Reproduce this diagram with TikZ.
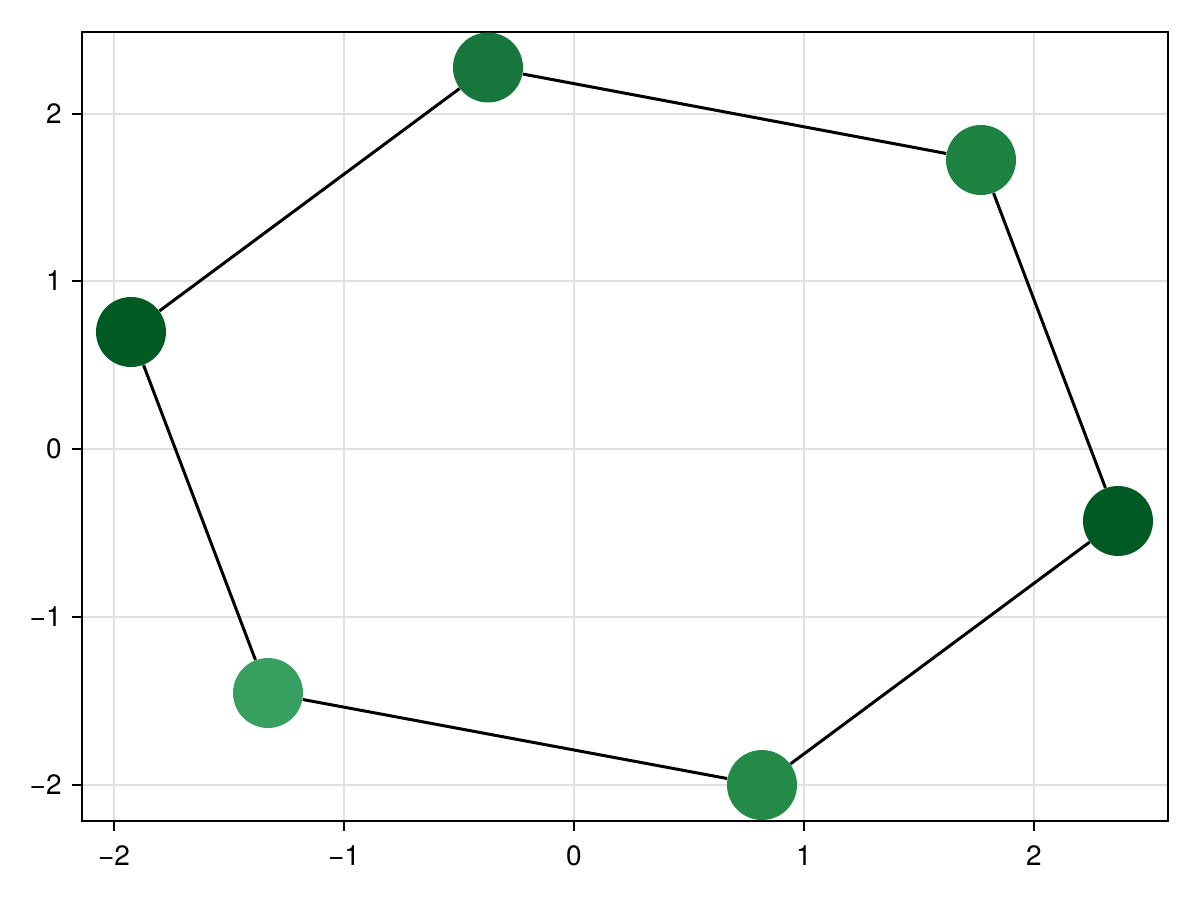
\documentclass[tikz,border=0pt]{standalone}
\usepackage{fontspec}
\setmainfont{TeX Gyre Heros}
\begin{document}
\begin{tikzpicture}[x=0.5pt,y=-0.5pt,
  grid/.style={draw=black!12,line width=1pt},
  spine/.style={draw=black,line width=1pt},
  tickmark/.style={draw=black,line width=1pt},
  edge/.style={draw=black,line width=1.5pt},
  vert/.style={circle,inner sep=0pt,minimum size=35pt,draw=none},
  xlab/.style={anchor=base,inner sep=0pt,font=\fontsize{14pt}{16pt}\selectfont},
  ylab/.style={anchor=base east,inner sep=0pt,font=\fontsize{14pt}{16pt}\selectfont}]
\useasboundingbox (0,0) rectangle (1200,900);
\definecolor{g1}{HTML}{17763B}
\definecolor{g2}{HTML}{1E8240}
\definecolor{g3}{HTML}{005A24}
\definecolor{g4}{HTML}{248A47}
\definecolor{g5}{HTML}{37A060}
% grid
\foreach \x in {114,344,574,804,1034} \draw[grid] (\x,32) -- (\x,821);
\foreach \y in {113.5,281.25,449,616.75,784.5} \draw[grid] (82,\y) -- (1168,\y);
% frame
\draw[spine] (82,32) rectangle (1168,821);
% ticks
\foreach \x/\l in {114/{−2},344/{−1},574/0,804/1,1034/2}{
  \draw[tickmark] (\x,821) -- (\x,831);
  \node[xlab] at (\x,865) {\l};
}
\foreach \y/\l in {113.5/2,281.25/1,449/0,616.75/{−1},784.5/{−2}}{
  \draw[tickmark] (82,\y) -- (72,\y);
  \node[ylab] at (62,\y+9.5) {\l};
}
% vertices
\node[vert,fill=g1] (A) at (488,67.5) {};
\node[vert,fill=g2] (B) at (981,160) {};
\node[vert,fill=g3] (C) at (1118,521) {};
\node[vert,fill=g4] (D) at (762,785) {};
\node[vert,fill=g5] (E) at (268,693) {};
\node[vert,fill=g3] (F) at (131,332) {};
% edges
\draw[edge] (A) -- (B);
\draw[edge] (B) -- (C);
\draw[edge] (C) -- (D);
\draw[edge] (D) -- (E);
\draw[edge] (E) -- (F);
\draw[edge] (F) -- (A);
\end{tikzpicture}
\end{document}
